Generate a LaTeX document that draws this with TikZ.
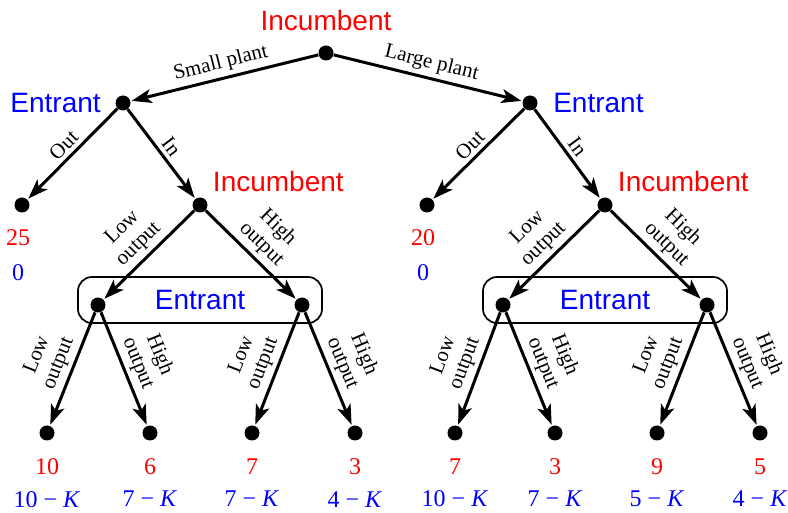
\documentclass[tikz,border=0pt]{standalone}
\usepackage{fontspec}
\setmainfont{Liberation Serif}
\newfontfamily\playerfont{Liberation Sans}
\usetikzlibrary{arrows.meta,positioning}

\begin{document}
\begin{tikzpicture}[
    x=0.5pt, y=-0.5pt,
    dot/.style={circle, fill, inner sep=0pt, minimum size=7.5pt},
    arr/.style={-{Stealth[length=10pt, width=7pt, inset=2.5pt]}, line width=1.5pt, shorten >=0.5pt},
    inc/.style={text=red, font=\playerfont\fontsize{14}{16}\selectfont, inner sep=0pt},
    ent/.style={text=blue, font=\playerfont\fontsize{14}{16}\selectfont, inner sep=0pt},
    lbl/.style={font=\fontsize{10.5}{11.5}\selectfont, align=center, inner sep=2pt},
    infoset/.style={ent, draw, rounded corners=7pt, line width=0.85pt, minimum width=122pt, minimum height=23pt},
    pay/.style={font=\fontsize{12}{14}\selectfont, inner sep=0pt},
  ]
  \useasboundingbox (0,0) rectangle (788,513);

  % Information sets
  \node[infoset] (B1) at (200,300) {Entrant};
  \node[infoset] (B2) at (605,300) {Entrant};

  % Decision nodes
  \node[dot] (I0) at (326,53) {};
  \node[dot] (E1) at (123,103) {};
  \node[dot] (E2) at (530,103) {};
  \node[dot] (O1) at (22,205) {};
  \node[dot] (I1) at (200,205) {};
  \node[dot] (O2) at (427,205) {};
  \node[dot] (I2) at (605,205) {};
  \node[dot] (E3) at (98,305) {};
  \node[dot] (E4) at (302,305) {};
  \node[dot] (E5) at (503,305) {};
  \node[dot] (E6) at (707,305) {};

  % Terminal nodes
  \node[dot] (L1) at (47,433) {};
  \node[dot] (L2) at (150,433) {};
  \node[dot] (L3) at (252,433) {};
  \node[dot] (L4) at (355,433) {};
  \node[dot] (L5) at (455,433) {};
  \node[dot] (L6) at (555,433) {};
  \node[dot] (L7) at (657,433) {};
  \node[dot] (L8) at (760,433) {};

  % Player names
  \node[inc, above=7pt of I0] {Incumbent};
  \node[ent, left=7pt of E1] {Entrant};
  \node[ent, right=7.5pt of E2] {Entrant};
  \node[inc, above right=3.5pt and 3.5pt of I1] {Incumbent};
  \node[inc, above right=3.5pt and 3.5pt of I2] {Incumbent};

  % Moves
  \draw[arr] (I0) -- node[lbl, above, sloped] {Small plant} (E1);
  \draw[arr] (I0) -- node[lbl, above, sloped] {Large plant} (E2);
  \draw[arr] (E1) -- node[lbl, above, sloped] {Out} (O1);
  \draw[arr] (E1) -- node[lbl, above, sloped] {In} (I1);
  \draw[arr] (E2) -- node[lbl, above, sloped] {Out} (O2);
  \draw[arr] (E2) -- node[lbl, above, sloped] {In} (I2);
  \draw[arr] (I1) -- node[lbl, above, sloped] {Low\\output} (E3);
  \draw[arr] (I1) -- node[lbl, above, sloped] {High\\output} (E4);
  \draw[arr] (I2) -- node[lbl, above, sloped] {Low\\output} (E5);
  \draw[arr] (I2) -- node[lbl, above, sloped] {High\\output} (E6);
  \draw[arr] (E3) -- node[lbl, above, sloped] {Low\\output} (L1);
  \draw[arr] (E3) -- node[lbl, above, sloped] {High\\output} (L2);
  \draw[arr] (E4) -- node[lbl, above, sloped] {Low\\output} (L3);
  \draw[arr] (E4) -- node[lbl, above, sloped] {High\\output} (L4);
  \draw[arr] (E5) -- node[lbl, above, sloped] {Low\\output} (L5);
  \draw[arr] (E5) -- node[lbl, above, sloped] {High\\output} (L6);
  \draw[arr] (E6) -- node[lbl, above, sloped] {Low\\output} (L7);
  \draw[arr] (E6) -- node[lbl, above, sloped] {High\\output} (L8);

  % Payoffs (incumbent in red, entrant in blue)
  \node[pay, text=red, below=8pt of O1, xshift=-2pt] (q1) {25};
  \node[pay, text=blue, below=9pt of q1] {0};
  \node[pay, text=red, below=8pt of O2, xshift=-2pt] (q2) {20};
  \node[pay, text=blue, below=9pt of q2] {0};

  \node[pay, text=red, below=8.5pt of L1] (p1) {10};
  \node[pay, text=blue, below=8pt of p1] {10 − \textit{K}};
  \node[pay, text=red, below=8.5pt of L2] (p2) {6};
  \node[pay, text=blue, below=8pt of p2] {7 − \textit{K}};
  \node[pay, text=red, below=8.5pt of L3] (p3) {7};
  \node[pay, text=blue, below=8pt of p3] {7 − \textit{K}};
  \node[pay, text=red, below=8.5pt of L4] (p4) {3};
  \node[pay, text=blue, below=8pt of p4] {4 − \textit{K}};
  \node[pay, text=red, below=8.5pt of L5] (p5) {7};
  \node[pay, text=blue, below=8pt of p5] {10 − \textit{K}};
  \node[pay, text=red, below=8.5pt of L6] (p6) {3};
  \node[pay, text=blue, below=8pt of p6] {7 − \textit{K}};
  \node[pay, text=red, below=8.5pt of L7] (p7) {9};
  \node[pay, text=blue, below=8pt of p7] {5 − \textit{K}};
  \node[pay, text=red, below=8.5pt of L8] (p8) {5};
  \node[pay, text=blue, below=8pt of p8] {4 − \textit{K}};
\end{tikzpicture}
\end{document}
